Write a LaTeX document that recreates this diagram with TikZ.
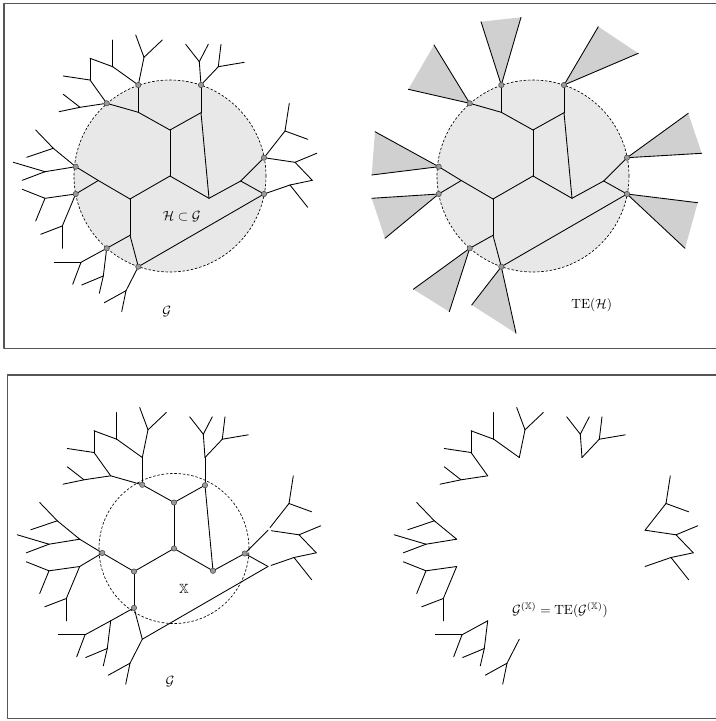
\documentclass[tikz,border=0pt]{standalone}
\usepackage{amsmath,amssymb}
\usepackage{tikz}
\definecolor{teball}{HTML}{E8E8E8}
\definecolor{tecone}{HTML}{D0D0D0}
\definecolor{tedot}{HTML}{9A9A9A}
\definecolor{tedotline}{HTML}{505050}
\definecolor{teframe}{HTML}{555555}

% points of the base graph, in the frame of the upper left panel
\newcommand{\gpts}[1]{%
  \foreach \n/\px/\py in {O/170/176,
    A1/138.3/85, A2/201/85, A3/106.7/103.3, A4/75.7/166.7, A5/75.7/194,
    A6/106.7/248.3, A7/138.3/266.7, A8/264/157.7, A9/264/194,
    B1/138.3/112.3, B2/170/130, B3/201/112.7, B4/170/176, B5/130/199,
    B6/209/198.3, B7/98.3/180.5, B8/130/235.3, B9/240.7/181,
    P1/144/57.3, P1a/135.7/35, P1b/162.3/40, P2/112.7/66.7, P2a/112.7/40,
    P3/90/58.3, P4/90/80, P4a/63.3/76, P5/80/107.3, P5a/63.3/94.3, P5b/59/111.7,
    Q1/199.3/61.7, Q1a/185.7/44.3, Q1b/208.3/44.3,
    Q2/218.3/66.7, Q2a/221/44.3, Q2b/244.3/62.3,
    R1/53.3/148.3, R1a/35.7/130, R1b/26.7/157.3,
    R2/45/171.7, R2a/13.3/162.3, R2b/22.3/180.3,
    R3/45/198.3, R3a/22.3/189.3, R3b/35.7/221,
    R4/62.3/226, R4a/40.7/234.3, R4b/62.3/248.3,
    S1/81/262.3, S1a/54.3/262.3, S1b/72.7/284.3,
    S2/103.3/276, S2a/81.7/285, S2b/99.3/293.3,
    S3/126/290.7, S3a/104.3/302.7, S3b/121.7/311.7,
    T1/285/131, T1a/289.3/103.3, T1b/307.7/139.3,
    T2/295/162.3, T2a/316.7/153.3, T3/312.3/180.3,
    T4/290/185, T4a/307.7/207.3}
  {\coordinate (#1\n) at (\px,\py);}%
}
\newcommand{\coreedges}{A3/B1, A1/B1, B1/B2, B2/B3, B3/A2, B2/B4, B3/B6,
  B4/B5, B4/B6, B5/B7, B7/A4, B7/A5, B5/B8, B8/A6, B8/A7, A7/A9,
  B6/B9, B9/A8, B9/A9}
\newcommand{\treeedges}{A1/P1, P1/P1a, P1/P1b, A1/P2, P2/P2a, P2/P3, P3/P4,
  P4/P4a, P4/A3, A3/P5, P5/P5a, P5/P5b,
  A2/Q1, Q1/Q1a, Q1/Q1b, A2/Q2, Q2/Q2a, Q2/Q2b,
  A4/R1, R1/R1a, R1/R1b, A4/R2, R2/R2a, R2/R2b,
  A5/R3, R3/R3a, R3/R3b, A5/R4, R4/R4a, R4/R4b,
  A6/S1, S1/S1a, S1/S1b, A6/S2, S2/S2a, S2/S2b, A7/S3, S3/S3a, S3/S3b,
  T1/T1a, T1/T1b, T2/T2a, T2/T3, T3/T4, T4/T4a}
\newcommand{\rimedges}{A8/T1, A8/T2, A9/T4}
\newcommand{\drawedges}[3][]{%
  \foreach \u/\v in #3 {\draw[link,#1] (#2\u) -- (#2\v);}%
}

\begin{document}
\begin{tikzpicture}[
  x=0.75pt, y=-0.75pt,
  line cap=round, line join=round,
  link/.style={line width=0.65pt, black},
  rim/.style={line width=0.5pt, dash pattern=on 1.6pt off 1.6pt},
  ball/.style={rim, fill=teball},
  vtx/.style={draw=tedotline, fill=tedot, line width=0.45pt},
  cone/.style={fill=tecone},
  panelline/.style={draw=teframe, line width=0.8pt},
  lbl/.style={inner sep=1pt},
]
\useasboundingbox (0,0) rectangle (715,721);

% ----- panel frames -----
\draw[panelline] (716,3.3) -| (4,348.3) -- (716,348.3);
\draw[panelline] (716,375) -| (7.5,718.3) -- (716,718.3);

% ----- (1) G, with H in the ball -----
\gpts{tl}
\draw[ball] (tlO) circle[radius=72pt];
\drawedges{tl}{\treeedges}
\drawedges{tl}{\rimedges}
\drawedges{tl}{\coreedges}
\foreach \v in {A1,A2,A3,A4,A5,A6,A7,A8,A9}
  \draw[vtx] (tl\v) circle[radius=2pt];
\node[lbl] (hsub) at (181.7,216.7) {$\mathcal{H}\subset\mathcal{G}$};
\node[lbl] (gtl) at (166.7,311.7) {$\mathcal{G}$};

% ----- (2) TE(H): cones on the boundary points -----
\begin{scope}[shift={(363,0)}]
  \gpts{tr}
  \draw[ball] (trO) circle[radius=72pt];
  \foreach \v/\ax/\ay/\bx/\by in {A1/118/21.7/158/17.3, A2/235.3/26.7/275.3/53.3,
      A3/71/45/45.3/89.3, A4/12/131.7/8.7/175, A5/8.7/198.3/22/238.3,
      A6/50.3/289.3/86.3/311.7, A7/108.7/305/153/333.3,
      A8/325.3/113.3/338.7/153.3, A9/334.7/202.7/322/248.3} {
    \coordinate (tr\v-a) at (\ax,\ay);
    \coordinate (tr\v-b) at (\bx,\by);
    \fill[cone] (tr\v-a) -- (tr\v) -- (tr\v-b) -- cycle;
    \draw[link] (tr\v-a) -- (tr\v) -- (tr\v-b);
  }
  \drawedges{tr}{\coreedges}
  \foreach \v in {A1,A2,A3,A4,A5,A6,A7,A8,A9}
    \draw[vtx] (tr\v) circle[radius=2pt];
  \node[lbl] (teh) at (228.7,305) {$\mathrm{TE}(\mathcal{H})$};
\end{scope}

% ----- (3) G with the set X -----
\begin{scope}[shift={(4,372.5)}]
  \gpts{bl}
  \drawedges{bl}{\treeedges}
  \drawedges[shorten <=2.5pt]{bl}{\rimedges}
  \drawedges{bl}{\coreedges}
  \draw[rim] (blO) circle[radius=56.25pt];
  \foreach \v in {B1,B2,B3,B4,B5,B6,B7,B8,B9}
    \draw[vtx] (bl\v) circle[radius=2pt];
  \node[lbl] (xset) at (180,216.8) {$\mathbb{X}$};
  \node[lbl] (gbl) at (166,309.2) {$\mathcal{G}$};
\end{scope}

% ----- (4) what is left outside X -----
\begin{scope}[shift={(381,372.5)}]
  \gpts{br}
  \drawedges{br}{\treeedges}
  \drawedges{br}{\rimedges}
  \node[lbl] (gx) at (179,237.5)
    {$\mathcal{G}^{(\mathbb{X})}=\mathrm{TE}(\mathcal{G}^{(\mathbb{X})})$};
\end{scope}
\end{tikzpicture}
\end{document}
